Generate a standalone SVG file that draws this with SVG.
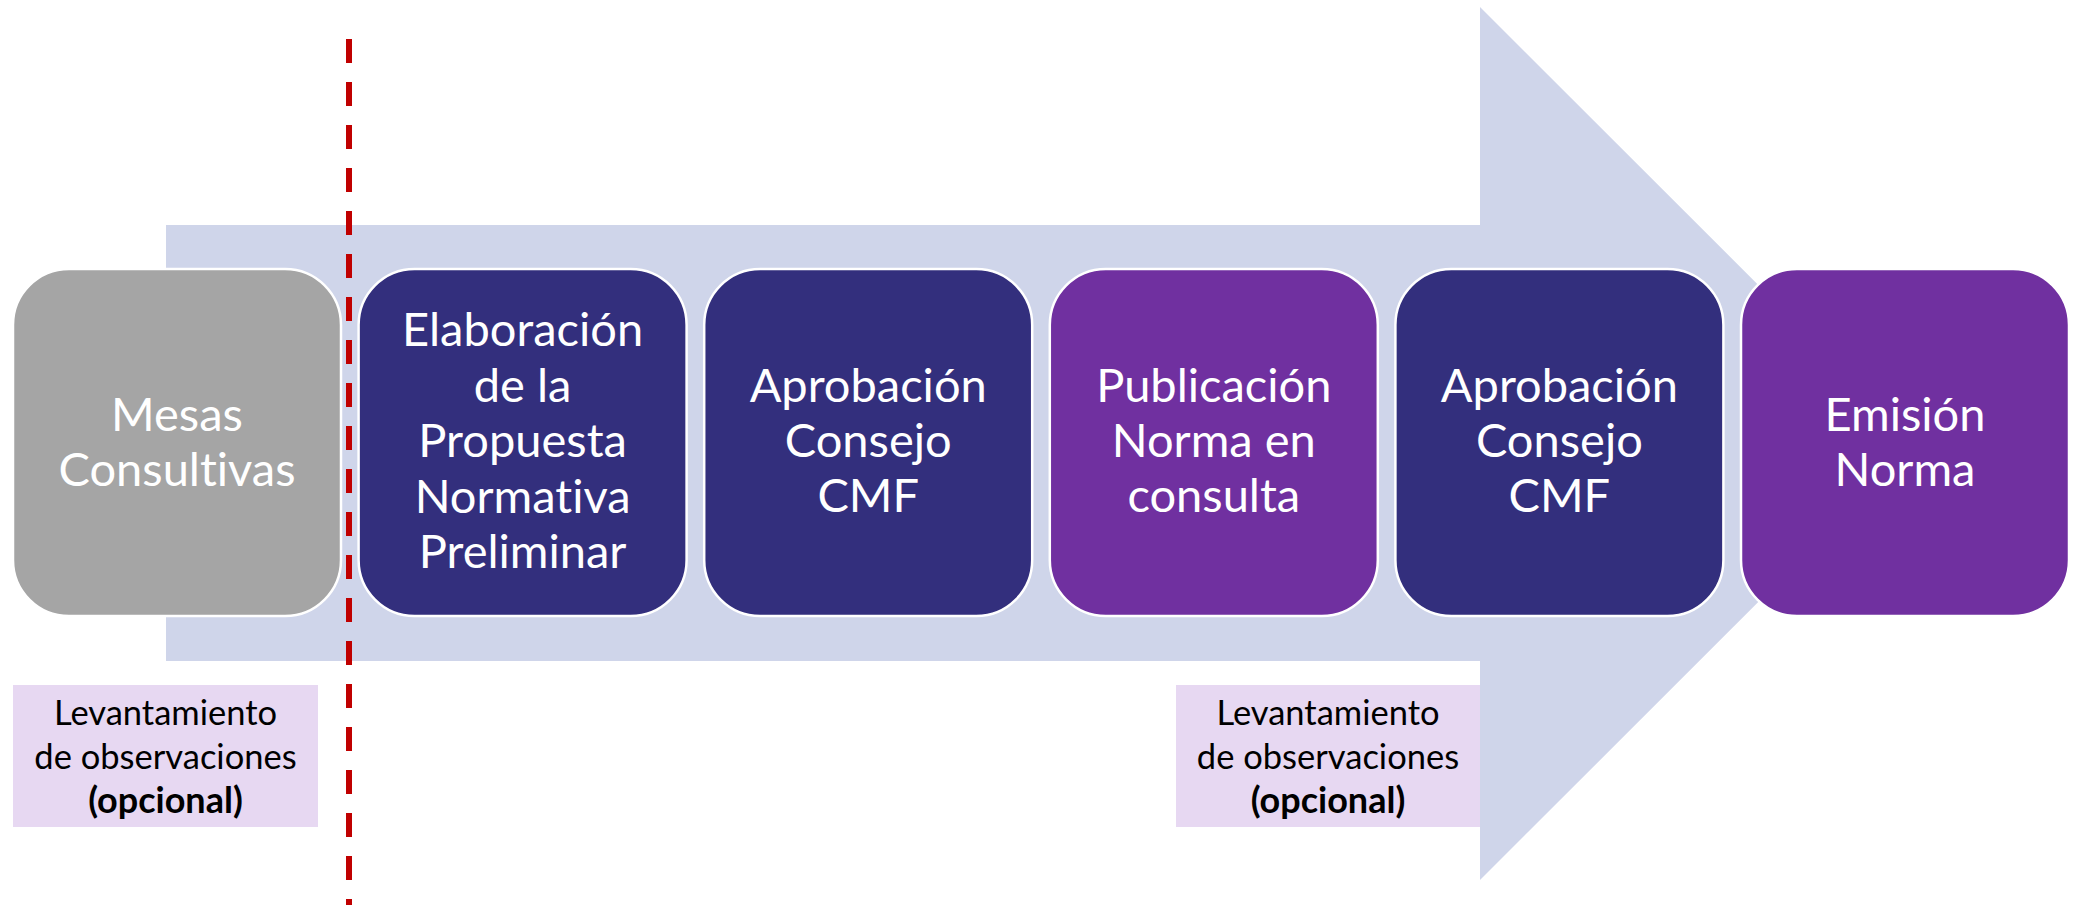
<svg xmlns="http://www.w3.org/2000/svg" width="2078" height="905" viewBox="0 0 2078 905">
<style>
.node{stroke:#FFFFFF;stroke-width:2.5}
.gray{fill:#A5A5A5}
.navy{fill:#332F7D}
.purple{fill:#7030A0}
.nt{font-family:Lato,"Open Sans",sans-serif;font-size:47px;fill:#FFFFFF;text-anchor:middle;font-variant-ligatures:none}
.lbl{fill:#E7D8F2}
.lt{font-family:Lato,"Open Sans",sans-serif;font-size:34.5px;fill:#000000;text-anchor:middle;font-variant-ligatures:none}
.b{font-weight:bold;font-size:36px}
</style>
<rect width="2078" height="905" fill="#FFFFFF"/>
<g id="arrow">
<polygon points="166,225 1480,225 1480,7 1917,443.5 1480,880 1480,661 166,661" fill="#CFD5EA"/>
</g>
<g id="connectors">
<line x1="349" y1="39" x2="349" y2="905" stroke="#C00000" stroke-width="6" stroke-dasharray="24,19"/>
</g>
<g id="n1">
<rect class="node gray" x="13" y="269" width="328" height="347" rx="56"/>
<text class="nt" x="177" y="431">Mesas</text>
<text class="nt" x="177" y="486">Consultivas</text>
</g>
<g id="n2">
<rect class="node navy" x="358.6" y="269" width="328" height="347" rx="56"/>
<text class="nt" x="522.6" y="346">Elaboración</text>
<text class="nt" x="522.6" y="401.5">de la</text>
<text class="nt" x="522.6" y="457">Propuesta</text>
<text class="nt" x="522.6" y="512.5">Normativa</text>
<text class="nt" x="522.6" y="568">Preliminar</text>
</g>
<g id="n3">
<rect class="node navy" x="704.2" y="269" width="328" height="347" rx="56"/>
<text class="nt" x="868.2" y="402">Aprobación</text>
<text class="nt" x="868.2" y="457">Consejo</text>
<text class="nt" x="868.2" y="512">CMF</text>
</g>
<g id="n4">
<rect class="node purple" x="1049.8" y="269" width="328" height="347" rx="56"/>
<text class="nt" x="1213.8" y="402">Publicación</text>
<text class="nt" x="1213.8" y="457">Norma en</text>
<text class="nt" x="1213.8" y="512">consulta</text>
</g>
<g id="n5">
<rect class="node navy" x="1395.4" y="269" width="328" height="347" rx="56"/>
<text class="nt" x="1559.4" y="402">Aprobación</text>
<text class="nt" x="1559.4" y="457">Consejo</text>
<text class="nt" x="1559.4" y="512">CMF</text>
</g>
<g id="n6">
<rect class="node purple" x="1741" y="269" width="328" height="347" rx="56"/>
<text class="nt" x="1905" y="431">Emisión</text>
<text class="nt" x="1905" y="486">Norma</text>
</g>
<g id="label1">
<rect class="lbl" x="13" y="685" width="305" height="142"/>
<text class="lt" x="165.5" y="725">Levantamiento</text>
<text class="lt" x="165.5" y="769">de observaciones</text>
<text class="lt b" x="165.5" y="813">(opcional)</text>
</g>
<g id="label2">
<rect class="lbl" x="1176" y="685" width="304" height="142"/>
<text class="lt" x="1328" y="725">Levantamiento</text>
<text class="lt" x="1328" y="769">de observaciones</text>
<text class="lt b" x="1328" y="813">(opcional)</text>
</g>
</svg>
